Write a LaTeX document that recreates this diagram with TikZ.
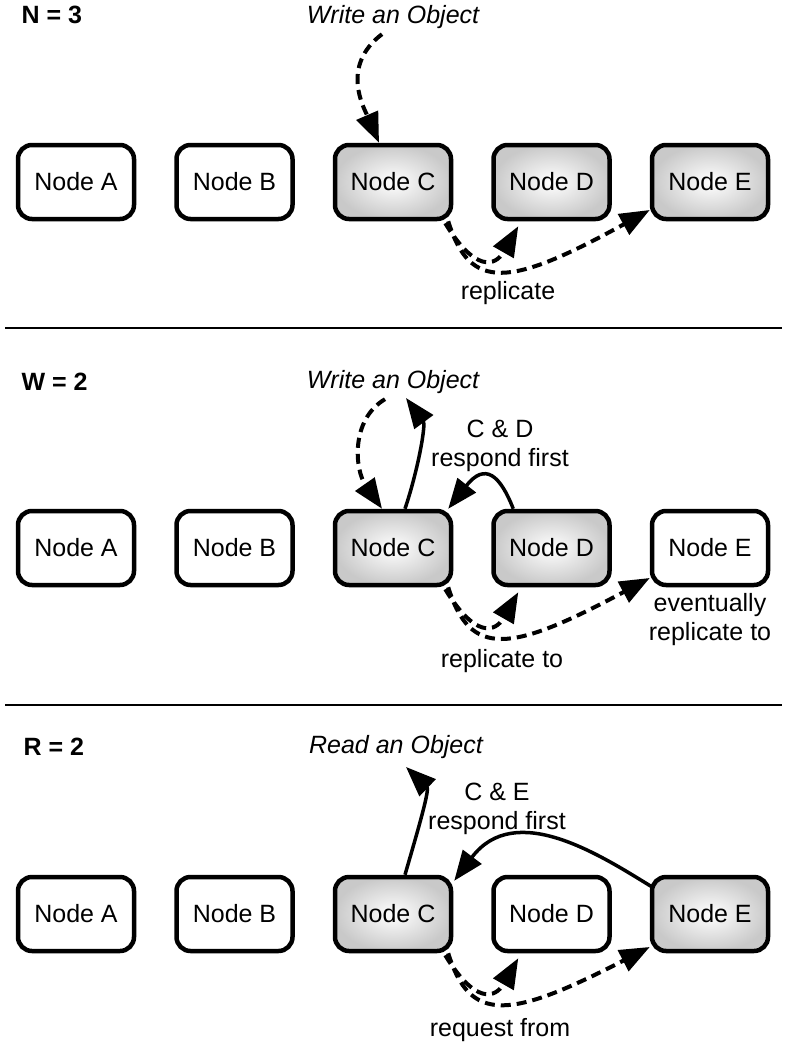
\documentclass[tikz,border=0pt]{standalone}
\usepackage{fontspec}
\setmainfont{Liberation Sans}
\usetikzlibrary{positioning,calc,arrows.meta}

\tikzset{
  nodebox/.style={draw,line width=4.5pt,rounded corners=14pt,fill=white,
    minimum width=116pt,minimum height=74pt,inner sep=0pt},
  hotbox/.style={nodebox,shading=radial,inner color=white,outer color=gray!42},
  sendarrow/.style={line width=4pt,dash pattern=on 10pt off 6pt,
    -{Triangle[length=30pt,width=23pt]}},
  backarrow/.style={line width=3.5pt,-{Triangle[length=30pt,width=23pt]}},
  title/.style={font=\fontsize{25}{29}\selectfont\bfseries,anchor=west},
  label/.style={align=center,font=\fontsize{25}{29}\selectfont}
}

\begin{document}
\begin{tikzpicture}[x=1pt,y=-1pt,node distance=38pt,
    font=\fontsize{25}{29}\selectfont]
   \useasboundingbox (0,0) rectangle (787,1049);

   % N = 3
   \node[title] (n) at (18,15) {N = 3};
   \node (wo1) at (393,17) {\itshape Write an Object};
   \node[nodebox] (a1) at (76,182) {Node A};
   \node[nodebox,right=of a1] (b1) {Node B};
   \node[hotbox,right=of b1] (c1) {Node C};
   \node[hotbox,right=of c1] (d1) {Node D};
   \node[hotbox,right=of d1] (e1) {Node E};
   \draw[sendarrow] ($(wo1.south)+(-11,2)$) .. controls (340,66) and (364,108) .. ($(c1.north)+(-14,0)$);
   \draw[sendarrow] ($(c1.south east)+(-8,2)$) .. controls (475,272) and (495,267) .. ($(d1.south west)+(27,5)$);
   \draw[sendarrow] ($(c1.south east)+(-5,0)$) .. controls (470,292) and (510,287) .. ($(e1.west)+(0,28)$);
   \node[label] (rep1) at (508,293) {replicate};
   \draw[line width=2pt] (5,328) -- (782,328);

   % W = 2
   \node[title] (w) at (18,382) {W = 2};
   \node (wo2) at (393,382) {\itshape Write an Object};
   \node[nodebox] (a2) at (76,548) {Node A};
   \node[nodebox,right=of a2] (b2) {Node B};
   \node[hotbox,right=of b2] (c2) {Node C};
   \node[hotbox,right=of c2] (d2) {Node D};
   \node[nodebox,right=of d2] (e2) {Node E};
   \draw[sendarrow] ($(wo2.south)+(-8,2)$) .. controls (350,420) and (355,470) .. ($(c2.north)+(-11,0)$);
   \draw[backarrow] ($(c2.north)+(12,0)$) .. controls (418,470) and (426,425) .. (406,398);
   \draw[backarrow] ($(d2.north west)+(22,0)$) .. controls (500,475) and (485,462) .. ($(c2.north east)+(-5,0)$);
   \node[label] (resp2) at (500,446) {C \& D\\respond first};
   \draw[sendarrow] ($(c2.south east)+(-8,2)$) .. controls (475,638) and (495,633) .. ($(d2.south west)+(27,5)$);
   \draw[sendarrow] ($(c2.south east)+(-5,0)$) .. controls (470,658) and (510,653) .. ($(e2.west)+(0,30)$);
   \node[label] (rep2) at (502,661) {replicate to};
   \node[label,below=3pt of e2] (ev2) {eventually\\replicate to};
   \draw[line width=2pt] (5,705) -- (782,705);

   % R = 2
   \node[title] (r) at (20,747) {R = 2};
   \node (ro3) at (396,747) {\itshape Read an Object};
   \node[nodebox] (a3) at (76,914) {Node A};
   \node[nodebox,right=of a3] (b3) {Node B};
   \node[hotbox,right=of b3] (c3) {Node C};
   \node[nodebox,right=of c3] (d3) {Node D};
   \node[hotbox,right=of d3] (e3) {Node E};
   \draw[backarrow] ($(c3.north)+(12,0)$) .. controls (415,840) and (430,790) .. (406,767);
   \draw[backarrow] ($(e3.north west)+(2,12)$) .. controls (600,855) and (515,800) .. ($(c3.north east)+(1,6)$);
   \node[label] (resp3) at (497,809) {C \& E\\respond first};
   \draw[sendarrow] ($(c3.south east)+(-8,2)$) .. controls (475,1004) and (495,999) .. ($(d3.south west)+(27,5)$);
   \draw[sendarrow] ($(c3.south east)+(-5,0)$) .. controls (470,1024) and (510,1019) .. ($(e3.west)+(0,33)$);
   \node[label] (req3) at (500,1030) {request from};
\end{tikzpicture}
\end{document}
